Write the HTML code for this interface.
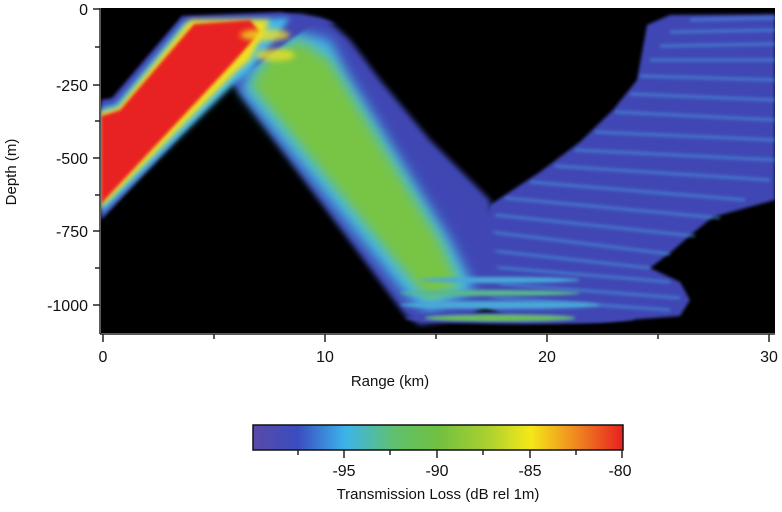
<!DOCTYPE html>
<html><head><meta charset="utf-8"><style>
body{margin:0;background:#fff;width:782px;height:512px;overflow:hidden}
svg{display:block}
text{font-family:"Liberation Sans",Arial,sans-serif;fill:#111}
</style></head><body>
<svg width="782" height="512" viewBox="0 0 782 512">
<defs>
<filter id="b3" x="-20%" y="-20%" width="140%" height="140%"><feGaussianBlur stdDeviation="3"/></filter>
<filter id="b6" x="-20%" y="-20%" width="140%" height="140%"><feGaussianBlur stdDeviation="6"/></filter>
<filter id="b2"><feGaussianBlur stdDeviation="1.5"/></filter>
<linearGradient id="cb" x1="0" x2="1" y1="0" y2="0">
<stop offset="0" stop-color="#5a4aa8"/>
<stop offset="0.12" stop-color="#3a4cc0"/>
<stop offset="0.25" stop-color="#3cb4ea"/>
<stop offset="0.38" stop-color="#60c070"/>
<stop offset="0.5" stop-color="#70c040"/>
<stop offset="0.63" stop-color="#a8d030"/>
<stop offset="0.75" stop-color="#f4e818"/>
<stop offset="0.87" stop-color="#f08a20"/>
<stop offset="1" stop-color="#e82020"/>
</linearGradient>
<clipPath id="pc"><rect x="101" y="8" width="674" height="325"/></clipPath>
</defs>
<rect x="101" y="8" width="674" height="325" fill="#000"/>
<g clip-path="url(#pc)">
<!-- right fan base -->
<polygon fill="#3f46b4" filter="url(#b2)" points="470,300 480,240 490,205 540,172 580,142 613,110 637,80 647,25 670,15 775,14 775,200 713,217 693,233 670,253 650,268 680,282 690,300 680,316 600,322 520,322"/>
<g stroke="#4aa0e0" stroke-width="3" opacity="0.55" filter="url(#b2)">
<line x1="690" y1="20" x2="775" y2="18"/><line x1="670" y1="32" x2="775" y2="30"/>
<line x1="660" y1="46" x2="775" y2="44"/><line x1="650" y1="60" x2="775" y2="60"/>
<line x1="640" y1="76" x2="775" y2="80"/><line x1="630" y1="94" x2="775" y2="100"/>
<line x1="615" y1="112" x2="775" y2="120"/><line x1="595" y1="132" x2="775" y2="140"/>
<line x1="575" y1="150" x2="775" y2="160"/><line x1="555" y1="166" x2="770" y2="180"/>
<line x1="530" y1="182" x2="745" y2="200"/><line x1="505" y1="198" x2="720" y2="218"/>
<line x1="495" y1="215" x2="695" y2="236"/><line x1="490" y1="232" x2="670" y2="254"/>
<line x1="485" y1="250" x2="650" y2="268"/><line x1="480" y1="266" x2="670" y2="282"/>
<line x1="475" y1="282" x2="680" y2="298"/><line x1="470" y1="296" x2="670" y2="310"/>
</g>
<!-- descending green beam -->
<polygon fill="#3f46b4" filter="url(#b3)" points="228,78 240,60 250,25 300,14 330,22 350,40 380,80 430,140 490,200 500,290 470,318 420,325 405,315"/>
<polygon fill="#44b8e8" filter="url(#b6)" points="240,90 255,60 290,30 330,40 345,70 450,240 475,290 430,312 410,300"/>
<polygon fill="#78c444" filter="url(#b6)" points="250,85 270,55 300,40 330,60 440,240 460,285 430,300 415,285"/>
<!-- bottom strips -->
<g filter="url(#b2)">
<ellipse cx="520" cy="318" rx="115" ry="6" fill="#3f46b4"/>
<ellipse cx="500" cy="318" rx="75" ry="3" fill="#6cc050"/>
<ellipse cx="500" cy="305" rx="100" ry="4" fill="#4aa8d8"/>
<ellipse cx="490" cy="293" rx="90" ry="3" fill="#58b890"/>
<ellipse cx="500" cy="280" rx="80" ry="3" fill="#4aa8d8"/>
</g>
<!-- upward blue/red beam -->
<polygon fill="#3f46b4" filter="url(#b2)" points="101,100 112,98 182,16 280,12 320,18 335,24 310,26 290,40 250,70 232,80 101,220"/>
<polygon fill="#44b8e8" filter="url(#b3)" points="101,108 116,104 184,22 290,18 250,72 236,82 101,214"/>
<polygon fill="#f0e020" filter="url(#b3)" points="101,112 118,108 190,20 270,20 250,60 236,72 101,208"/>
<polygon fill="#e82020" filter="url(#b2)" points="101,116 120,110 194,24 250,20 260,32 240,55 230,66 101,204"/>
<g filter="url(#b3)" fill="#f0e020" opacity="0.8">
<ellipse cx="265" cy="35" rx="25" ry="6"/><ellipse cx="275" cy="55" rx="20" ry="6"/>
</g>
</g>
<!-- axes -->
<g stroke="#222" stroke-width="1.5">
<line x1="100" y1="8" x2="100" y2="334"/>
<line x1="100" y1="334" x2="775" y2="334"/>
<line x1="93" y1="9" x2="100" y2="9"/><line x1="93" y1="85" x2="100" y2="85"/>
<line x1="93" y1="158" x2="100" y2="158"/><line x1="93" y1="231" x2="100" y2="231"/>
<line x1="93" y1="305" x2="100" y2="305"/>
<line x1="95" y1="47" x2="100" y2="47"/><line x1="95" y1="121" x2="100" y2="121"/>
<line x1="95" y1="195" x2="100" y2="195"/><line x1="95" y1="268" x2="100" y2="268"/>
<line x1="103" y1="334" x2="103" y2="342"/><line x1="325" y1="334" x2="325" y2="342"/>
<line x1="547" y1="334" x2="547" y2="342"/><line x1="769" y1="334" x2="769" y2="342"/>
<line x1="214" y1="334" x2="214" y2="339"/><line x1="436" y1="334" x2="436" y2="339"/>
<line x1="658" y1="334" x2="658" y2="339"/>
</g>
<g font-size="16" text-anchor="end">
<text x="88" y="15">0</text><text x="88" y="91">-250</text>
<text x="88" y="164">-500</text><text x="88" y="237">-750</text>
<text x="88" y="311">-1000</text>
</g>
<g font-size="16" text-anchor="middle">
<text x="103" y="362">0</text><text x="325" y="362">10</text>
<text x="547" y="362">20</text><text x="769" y="362">30</text>
</g>
<text x="390" y="386" font-size="15" text-anchor="middle">Range (km)</text>
<text transform="translate(16,172) rotate(-90)" font-size="15" text-anchor="middle">Depth (m)</text>
<!-- colorbar -->
<rect x="253" y="425" width="370" height="25" fill="url(#cb)" stroke="#111" stroke-width="1.5"/>
<g stroke="#222" stroke-width="1.5">
<line x1="298" y1="450" x2="298" y2="455"/><line x1="344" y1="450" x2="344" y2="458"/>
<line x1="390" y1="450" x2="390" y2="455"/><line x1="437" y1="450" x2="437" y2="458"/>
<line x1="483" y1="450" x2="483" y2="455"/><line x1="530" y1="450" x2="530" y2="458"/>
<line x1="576" y1="450" x2="576" y2="455"/><line x1="622" y1="450" x2="622" y2="458"/>
</g>
<g font-size="16" text-anchor="middle">
<text x="344" y="476">-95</text><text x="437" y="476">-90</text>
<text x="530" y="476">-85</text><text x="620" y="476">-80</text>
</g>
<text x="438" y="499" font-size="15" text-anchor="middle">Transmission Loss (dB rel 1m)</text>
</svg>
</body></html>
